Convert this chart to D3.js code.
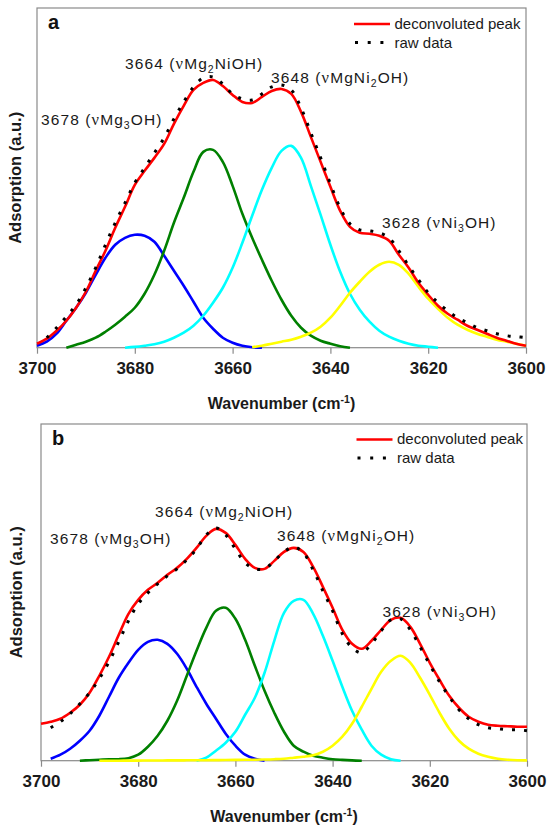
<!DOCTYPE html>
<html>
<head>
<meta charset="utf-8">
<script src="https://cdn.jsdelivr.net/npm/d3@7"></script>
<style>
body { margin: 0; background: #fff; }
svg { display: block; }
text { font-family: "Liberation Sans", Arial, sans-serif; }
</style>
</head>
<body>
<svg id="chart" width="550" height="828"></svg>
<script>
// sampling grid of both spectra (cm-1)
var wavenumbers = [3700, 3698, 3696, 3694, 3692, 3690, 3688, 3686, 3684, 3682,
    3680, 3678, 3676, 3674, 3672, 3670, 3668, 3666, 3664, 3662,
    3660, 3658, 3656, 3654, 3652, 3650, 3648, 3646, 3644, 3642,
    3640, 3638, 3636, 3634, 3632, 3630, 3628, 3626, 3624, 3622,
    3620, 3618, 3616, 3614, 3612, 3610, 3608, 3606, 3604, 3602, 3600]
var tickValues = [3700, 3680, 3660, 3640, 3620, 3600]

// peak labels
var peakCenters = ["3678", "3664", "3648", "3628"]
var peakModes = ["Mg_3OH", "Mg_2NiOH", "MgNi_2OH", "Ni_3OH"]
var legendNames = ["deconvoluted peak", "raw data"]
var componentColors = ["#0000ff", "#008000", "#00ffff", "#ffff00"]

// ---- panel a ----
var fitA = [4, 9, 17, 27, 40, 56, 77, 97, 120, 141,
    163, 177, 190, 204, 224, 242, 258, 265, 268, 262,
    253, 246, 245, 251, 257, 259, 254, 236, 211, 186,
    161, 137, 121, 115, 114, 112, 107, 93, 80, 65,
    53, 42, 34, 28, 22, 18, 14, 10, 7, 4, 2]
var rawA = [null, 10, 20, 31, 43, 60, 80, 103, 125, 145,
    165, 180, 195, 210, 229, 246, 261, 270, 271, 264,
    254, 249, 248, 254, 261, 263, 258, 240, 215, 190,
    164, 140, 124, 118, 117, 115, 110, 97, 82, 68,
    55, 45, 37, 30, 25, 20, 17, 14, 12, 11, 10]
var blueA = [2, 6, 14, 27, 40, 55, 73, 90, 103, 110,
    113, 112, 106, 92, 77, 62, 46, 30, 19, 10,
    5, 2, 0.5, 0, null, null, null, null, null, null,
    null, null, null, null, null, null, null, null, null, null,
    null, null, null, null, null, null, null, null, null, null, null]
var greenA = [null, null, null, 0, 3, 6, 10, 16, 23, 31,
    40, 54, 73, 97, 125, 150, 176, 196, 198, 186,
    162, 134, 110, 88, 67, 48, 32, 20, 12, 7,
    4, 1.5, 0, null, null, null, null, null, null, null,
    null, null, null, null, null, null, null, null, null, null, null]
var cyanA = [null, null, null, null, null, null, null, null, null, 0,
    0.8, 2, 3.5, 6, 10, 15, 22, 32, 45, 60,
    80, 105, 132, 158, 180, 197, 202, 190, 162, 133,
    103, 76, 54, 38, 26, 17, 11, 7, 4, 2,
    1, 0, null, null, null, null, null, null, null, null, null]
var yellowA = [null, null, null, null, null, null, null, null, null, null,
    null, null, null, null, null, null, null, null, null, null,
    null, null, 0.5, 2, 4, 6, 8, 11, 15, 21,
    30, 42, 55, 66, 76, 83, 86, 83, 74, 61,
    49, 39, 30, 23, 18, 14, 11, 8, 6, 4, 2]

// ---- panel b ----
var fitB = [37, 39, 42, 48, 56, 68, 85, 104, 126, 147,
    161, 171, 178, 186, 193, 202, 213, 225, 232, 228,
    216, 202, 193, 192, 200, 209, 213, 209, 194, 174,
    153, 131, 117, 112, 120, 131, 141, 143, 134, 117,
    98, 81, 65, 53, 44, 39, 36, 35, 34.5, 34, 34]
var rawB = [null, 33, 39, 47, 57, 68, 82, 99, 119, 140,
    157, 168, 177, 185, 192, 201, 212, 226, 233, 226,
    212, 198, 192, 192, 200, 209, 214, 208, 191, 170,
    150, 127, 113, 108, 117, 130, 141, 142, 131, 114,
    96, 79, 64, 51, 42, 36, 33, 32, 31, 31, 30]
var blueB = [null, 2, 6, 12, 20, 30, 45, 64, 83, 98,
    111, 119, 121, 117, 107, 92, 74, 57, 42, 27,
    15, 6, 2, 0, null, null, null, null, null, null,
    null, null, null, null, null, null, null, null, null, null,
    null, null, null, null, null, null, null, null, null, null, null]
var greenB = [null, null, null, null, 0, 0.5, 1, 1.5, 1.5, 2.5,
    6, 14, 25, 40, 60, 85, 110, 133, 150, 153,
    142, 121, 95, 70, 48, 29, 15, 9, 5, 3,
    1.5, 0.8, 0.3, 0, null, null, null, null, null, null,
    null, null, null, null, null, null, null, null, null, null, null]
var cyanB = [null, null, null, null, null, null, null, null, null, null,
    null, null, null, null, null, null, 0, 3, 10, 18,
    29, 46, 63, 88, 120, 148, 160, 161, 147, 125,
    100, 74, 50, 31, 15, 6, 1.5, 0, null, null,
    null, null, null, null, null, null, null, null, null, null, null]
var yellowB = [null, null, null, null, null, null, 0, 0, 0, 0.1,
    0.1, 0.2, 0.2, 0.3, 0.3, 0.4, 0.5, 0.5, 0.6, 0.7,
    0.8, 0.9, 1, 1.2, 1.5, 2, 3, 4, 5.5, 9,
    15, 24, 37, 54, 72, 89, 100, 105, 98, 83,
    66, 48, 32, 20, 12, 7, 4, 2, 1, 0.5, 0.3]


var panels = [
    {
        letter: "a", left: 37, right: 526, top: 8, bottom: 347.7, yMax: 340,
        fit: fitA, raw: rawA, comps: [blueA, greenA, cyanA, yellowA],
        labelPos: [[41, 125], [125, 68.5], [271, 82.5], [382, 227.5]],
        legend: { x: 354, y: 24 }, ylabelX: 21
    },
    {
        letter: "b", left: 41, right: 527, top: 424, bottom: 760.7, yMax: 337,
        fit: fitB, raw: rawB, comps: [blueB, greenB, cyanB, yellowB],
        labelPos: [[50, 543.5], [155, 516.5], [277, 541], [382.5, 616.5]],
        legend: { x: 356.5, y: 439.5 }, ylabelX: 22
    }
]

var svg = d3.select("#chart")

function series(values) {
    return wavenumbers.map((w, i) => ({ w: w, v: values[i] }))
}

function peakLabel(g, i, pos) {
    var t = g.append("text")
        .attr("x", pos[0]).attr("y", pos[1])
        .attr("font-size", 15.5)
        .attr("letter-spacing", "1.1px")
        .attr("fill", "#1a1a1a")
    t.append("tspan").text(peakCenters[i] + " (")
    t.append("tspan").text("ν")
        .style("font-family", "'Liberation Serif', 'DejaVu Serif', serif")
        .attr("font-size", 16.5)
    // "_" marks a subscript digit
    var parts = peakModes[i].split("_")
    t.append("tspan").text(parts[0])
    t.append("tspan").text(parts[1][0]).attr("font-size", 10.5).attr("dy", 4)
    t.append("tspan").text(parts[1].slice(1) + ")").attr("dy", -4)
}

panels.forEach(p => {
    var x = d3.scaleLinear().domain([3700, 3600]).range([p.left, p.right])
    var y = d3.scaleLinear().domain([0, p.yMax]).range([p.bottom, p.top])
    var g = svg.append("g")

    g.append("rect")
        .attr("x", p.left).attr("y", p.top)
        .attr("width", p.right - p.left).attr("height", p.bottom - p.top)
        .attr("fill", "none").attr("stroke", "#8a8a8a").attr("stroke-width", 1.2)

    var axis = g.append("g")
        .attr("transform", "translate(0," + p.bottom + ")")
        .call(d3.axisBottom(x).tickValues(tickValues).tickSize(6).tickPadding(8).tickFormat(d3.format("d")))
    axis.select(".domain").remove()
    axis.selectAll(".tick line").attr("stroke", "#8a8a8a").attr("stroke-width", 1.2)
    axis.selectAll(".tick text")
        .attr("font-family", "'Liberation Sans', Arial, sans-serif")
        .attr("font-size", 17).attr("font-weight", "bold").attr("fill", "#1a1a1a")

    var line = d3.line()
        .defined(d => d.v != null)
        .x(d => x(d.w))
        .y(d => y(d.v))
        .curve(d3.curveCatmullRom.alpha(0.5))

    p.comps.forEach((c, i) => {
        g.append("path")
            .datum(series(c))
            .attr("fill", "none")
            .attr("stroke", componentColors[i])
            .attr("stroke-width", 2.6)
            .attr("d", line)
    })

    g.append("path")
        .datum(series(p.fit))
        .attr("fill", "none").attr("stroke", "#ff0000").attr("stroke-width", 2.6)
        .attr("d", line)

    g.append("path")
        .datum(series(p.raw))
        .attr("fill", "none").attr("stroke", "#000").attr("stroke-width", 3)
        .attr("stroke-dasharray", "3,9")
        .attr("d", line)

    // panel letter
    g.append("text")
        .attr("x", p.left + 11).attr("y", p.top + 21)
        .attr("font-size", 20).attr("font-weight", "bold").attr("fill", "#111")
        .text(p.letter)

    peakCenters.forEach((c, i) => peakLabel(g, i, p.labelPos[i]))

    // legend
    var lg = g.append("g").attr("transform", "translate(" + p.legend.x + "," + p.legend.y + ")")
    lg.append("line").attr("x1", 0).attr("x2", 36).attr("y1", 0).attr("y2", 0)
        .attr("stroke", "#ff0000").attr("stroke-width", 2.6)
    lg.append("line").attr("x1", 0).attr("x2", 36).attr("y1", 18.5).attr("y2", 18.5)
        .attr("stroke", "#000").attr("stroke-width", 3).attr("stroke-dasharray", "3,9.7")
        .attr("stroke-dashoffset", -1)
    legendNames.forEach((n, i) => {
        lg.append("text")
            .attr("x", 40.5).attr("y", 4.8 + i * 18.8)
            .attr("font-size", 15).attr("fill", "#1a1a1a")
            .text(n)
    })

    // axis titles
    var xt = g.append("text")
        .attr("x", (p.left + p.right) / 2).attr("y", p.bottom + 61.3)
        .attr("text-anchor", "middle")
        .attr("font-size", 16).attr("font-weight", "bold").attr("fill", "#1a1a1a")
    xt.append("tspan").text("Wavenumber (cm")
    xt.append("tspan").text("-1").attr("font-size", 10.5).attr("dy", -6)
    xt.append("tspan").text(")").attr("dy", 6)

    g.append("text")
        .attr("transform", "translate(" + p.ylabelX + "," + (p.top + p.bottom) / 2 + ") rotate(-90)")
        .attr("text-anchor", "middle")
        .attr("font-size", 16.5).attr("font-weight", "bold").attr("fill", "#1a1a1a")
        .text("Adsorption (a.u.)")
})
</script>
</body>
</html>
